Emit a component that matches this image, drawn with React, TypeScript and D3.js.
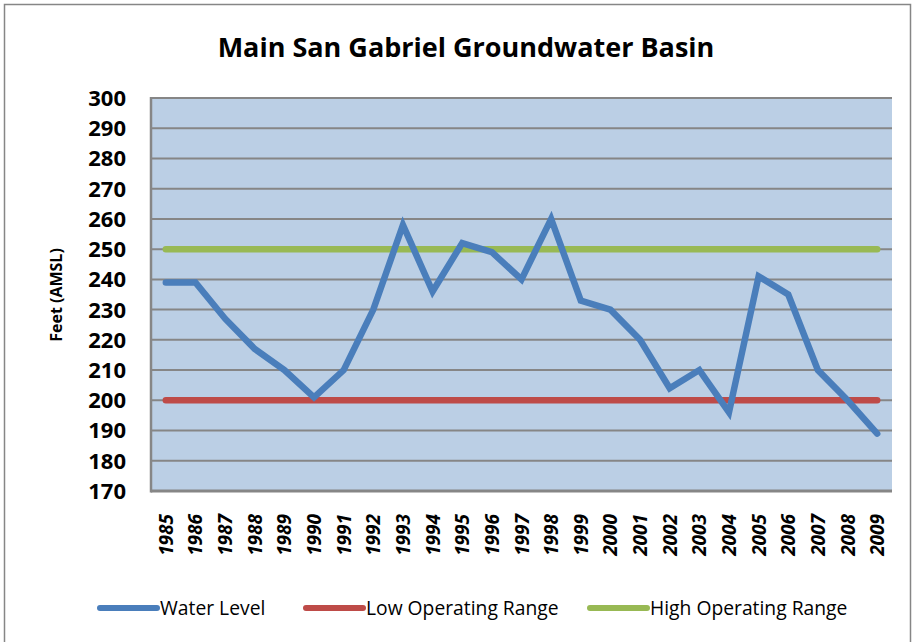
import React from 'react';
import * as d3 from 'd3';

const years = [
  '1985', '1986', '1987', '1988', '1989', '1990', '1991', '1992', '1993', '1994',
  '1995', '1996', '1997', '1998', '1999', '2000', '2001', '2002', '2003', '2004',
  '2005', '2006', '2007', '2008', '2009',
];
const waterLevel = [
  239, 239, 227, 217, 210, 201, 210, 230, 258, 236,
  252, 249, 240, 260, 233, 230, 220, 204, 210, 196,
  241, 235, 210, 200, 189,
];
const lowRange = years.map(() => 200);
const highRange = years.map(() => 250);
const yTicks = [170, 180, 190, 200, 210, 220, 230, 240, 250, 260, 270, 280, 290, 300];

const series = [
  { name: 'Water Level', values: waterLevel, color: '#4A7EBB' },
  { name: 'Low Operating Range', values: lowRange, color: '#BE4B48' },
  { name: 'High Operating Range', values: highRange, color: '#98B954' },
];
const legendX = [100, 306, 590];

const W = 915;
const H = 642;
const plot = { left: 151, right: 892, top: 98, bottom: 491 };
const font = '"Open Sans", "Liberation Sans", sans-serif';

export default function App() {
  const x = d3.scaleBand().domain(years).range([plot.left, plot.right]);
  const y = d3.scaleLinear().domain([170, 300]).range([plot.bottom, plot.top]);
  const cx = (d: string) => (x(d) as number) + x.bandwidth() / 2;

  const line = d3.line<number>()
    .x((_, i) => cx(years[i]))
    .y(d => y(d));

  return (
    <svg width={W} height={H} style={{ position: 'absolute', left: 0, top: 0, background: '#fff' }}>
      <rect x={4.5} y={4.5} width={906} height={660} fill="#fff" stroke="#868686" strokeWidth={1.5} />

      <text x={466} y={57} textAnchor="middle" fontFamily={font} fontWeight="bold" fontSize={27}>
        Main San Gabriel Groundwater Basin
      </text>

      <rect x={plot.left} y={plot.top} width={plot.right - plot.left} height={plot.bottom - plot.top} fill="#BBCFE5" />

      {yTicks.map(t => (
        <g key={t}>
          <line x1={plot.left} x2={plot.right} y1={y(t)} y2={y(t)} stroke="#868686" strokeWidth={2} />
          <text x={126} y={y(t)} dy="0.36em" textAnchor="end" fontFamily={font} fontWeight="bold" fontSize={22}>
            {t}
          </text>
        </g>
      ))}
      <line x1={plot.left} x2={plot.left} y1={plot.top - 1} y2={plot.bottom + 1.5} stroke="#868686" strokeWidth={2.5} />
      <line x1={plot.left} x2={plot.right} y1={plot.bottom} y2={plot.bottom} stroke="#868686" strokeWidth={3} />

      {years.map(d => (
        <text key={d} transform={`translate(${cx(d) + 7},514) rotate(-90)`} textAnchor="end"
          fontFamily={font} fontWeight="bold" fontStyle="italic" fontSize={19}>
          {d}
        </text>
      ))}

      <text transform="translate(62,295) rotate(-90)" textAnchor="middle" fontFamily={font} fontWeight="bold" fontSize={16}>
        Feet (AMSL)
      </text>

      {series.slice(1).concat(series.slice(0, 1)).map(s => (
        <path key={s.name} d={line(s.values) ?? ''} fill="none" stroke={s.color} strokeWidth={6.5}
          strokeLinecap="round" strokeLinejoin="miter" />
      ))}

      {series.map((s, i) => (
        <g key={s.name} transform={`translate(${legendX[i]},608)`}>
          <line x1={0} x2={57} y1={0} y2={0} stroke={s.color} strokeWidth={6} strokeLinecap="round" />
          <text x={60} y={0} dy="0.35em" fontFamily={font} fontSize={19.3}>{s.name}</text>
        </g>
      ))}
    </svg>
  );
}
